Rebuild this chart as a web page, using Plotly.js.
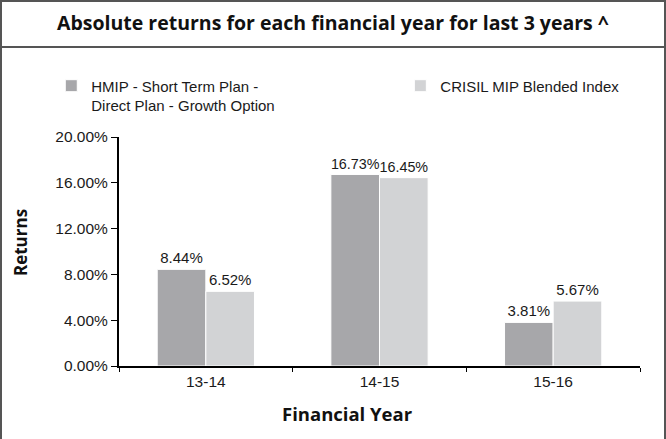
<!DOCTYPE html>
<html>
<head>
<meta charset="utf-8">
<script src="https://cdn.plot.ly/plotly-3.0.1.min.js"></script>
<style>
  html, body { margin: 0; padding: 0; background: #fff; }
  #frame { position: relative; width: 666px; height: 439px; box-sizing: border-box;
           border: 2px solid #555; border-bottom: none; }
  #band { position: absolute; left: 0; right: 0; top: 44px; height: 0; border-top: 2px solid #555; }
  #chart { position: absolute; left: -2px; top: -2px; width: 666px; height: 439px; }
</style>
</head>
<body>
<div id="frame"><div id="band"></div><div id="chart"></div></div>
<script>
const categories = ['13-14', '14-15', '15-16'];
const fundName = 'HMIP - Short Term Plan -<br>Direct Plan - Growth Option';
const benchName = 'CRISIL MIP Blended Index';
const fundReturns = [8.44, 16.73, 3.81];
const benchReturns = [6.52, 16.45, 5.67];
const yTickVals = [0, 4, 8, 12, 16, 20];
const yTickText = ['0.00%', '4.00%', '8.00%', '12.00%', '16.00%', '20.00%'];
const xTitle = 'Financial Year';
const yTitle = 'Returns';

const sans = 'Liberation Sans, Arial, sans-serif';
const boldFont = 'Open Sans, DejaVu Sans, sans-serif';

const traces = [
  { type: 'bar', name: fundName, x: categories, y: fundReturns, legend: 'legend',
    marker: { color: '#a7a7aa', line: { color: '#ffffff', width: 1 } },
    texttemplate: '%{y:.2f}%', textposition: 'outside', cliponaxis: false,
    textfont: { family: sans, size: 15, color: '#1a1a1a' } },
  { type: 'bar', name: benchName, x: categories, y: benchReturns, legend: 'legend2',
    marker: { color: '#d2d3d5', line: { color: '#ffffff', width: 1 } },
    texttemplate: '%{y:.2f}%', textposition: 'outside', cliponaxis: false,
    textfont: { family: sans, size: 15, color: '#1a1a1a' } }
];

const legendCommon = { orientation: 'v', xanchor: 'left', yanchor: 'top', valign: 'top',
  font: { family: sans, size: 15, color: '#1a1a1a' }, bgcolor: 'rgba(0,0,0,0)' };

const layout = {
  width: 666, height: 439,
  margin: { l: 119, r: 26, t: 137, b: 73 },
  paper_bgcolor: 'rgba(0,0,0,0)', plot_bgcolor: 'rgba(0,0,0,0)',
  font: { family: sans, size: 15, color: '#1a1a1a' },
  title: { text: 'Absolute returns for each financial year for last 3 years ^',
           font: { family: boldFont, size: 19.5, color: '#111', weight: 700 },
           x: 0.5, xanchor: 'center', y: 0.947, yanchor: 'middle', yref: 'container' },
  barmode: 'group', bargap: 0.44, bargroupgap: 0,
  showlegend: true,
  legend: Object.assign({}, legendCommon, { x: -0.13, y: 1.295 }),
  legend2: Object.assign({}, legendCommon, { x: 0.54, y: 1.295 }),
  xaxis: { type: 'category', showline: true, linecolor: '#000', linewidth: 2,
           ticks: 'outside', tickson: 'boundaries', ticklen: 4, tickcolor: '#000', tickwidth: 1,
           tickfont: { family: sans, size: 15.5, color: '#1a1a1a' },
           showgrid: false, zeroline: false },
  yaxis: { range: [0, 20], showline: true, linecolor: '#000', linewidth: 2,
           tickvals: yTickVals, ticktext: yTickText,
           ticks: 'outside', ticklen: 6, tickcolor: '#000', tickwidth: 1,
           tickfont: { family: sans, size: 15.5, color: '#1a1a1a' },
           showgrid: false, zeroline: false },
  annotations: [
    { text: xTitle, xref: 'paper', yref: 'paper', x: 0.4395, y: -0.2096,
      xanchor: 'center', yanchor: 'middle', showarrow: false,
      font: { family: boldFont, size: 18.5, color: '#111', weight: 700 } },
    { text: yTitle, xref: 'paper', yref: 'paper', x: -0.19, y: 0.537, textangle: -90,
      xanchor: 'center', yanchor: 'middle', showarrow: false,
      font: { family: boldFont, size: 17, color: '#111', weight: 700 } }
  ]
};

Plotly.newPlot('chart', traces, layout, { displayModeBar: false, staticPlot: true });
</script>
</body>
</html>
